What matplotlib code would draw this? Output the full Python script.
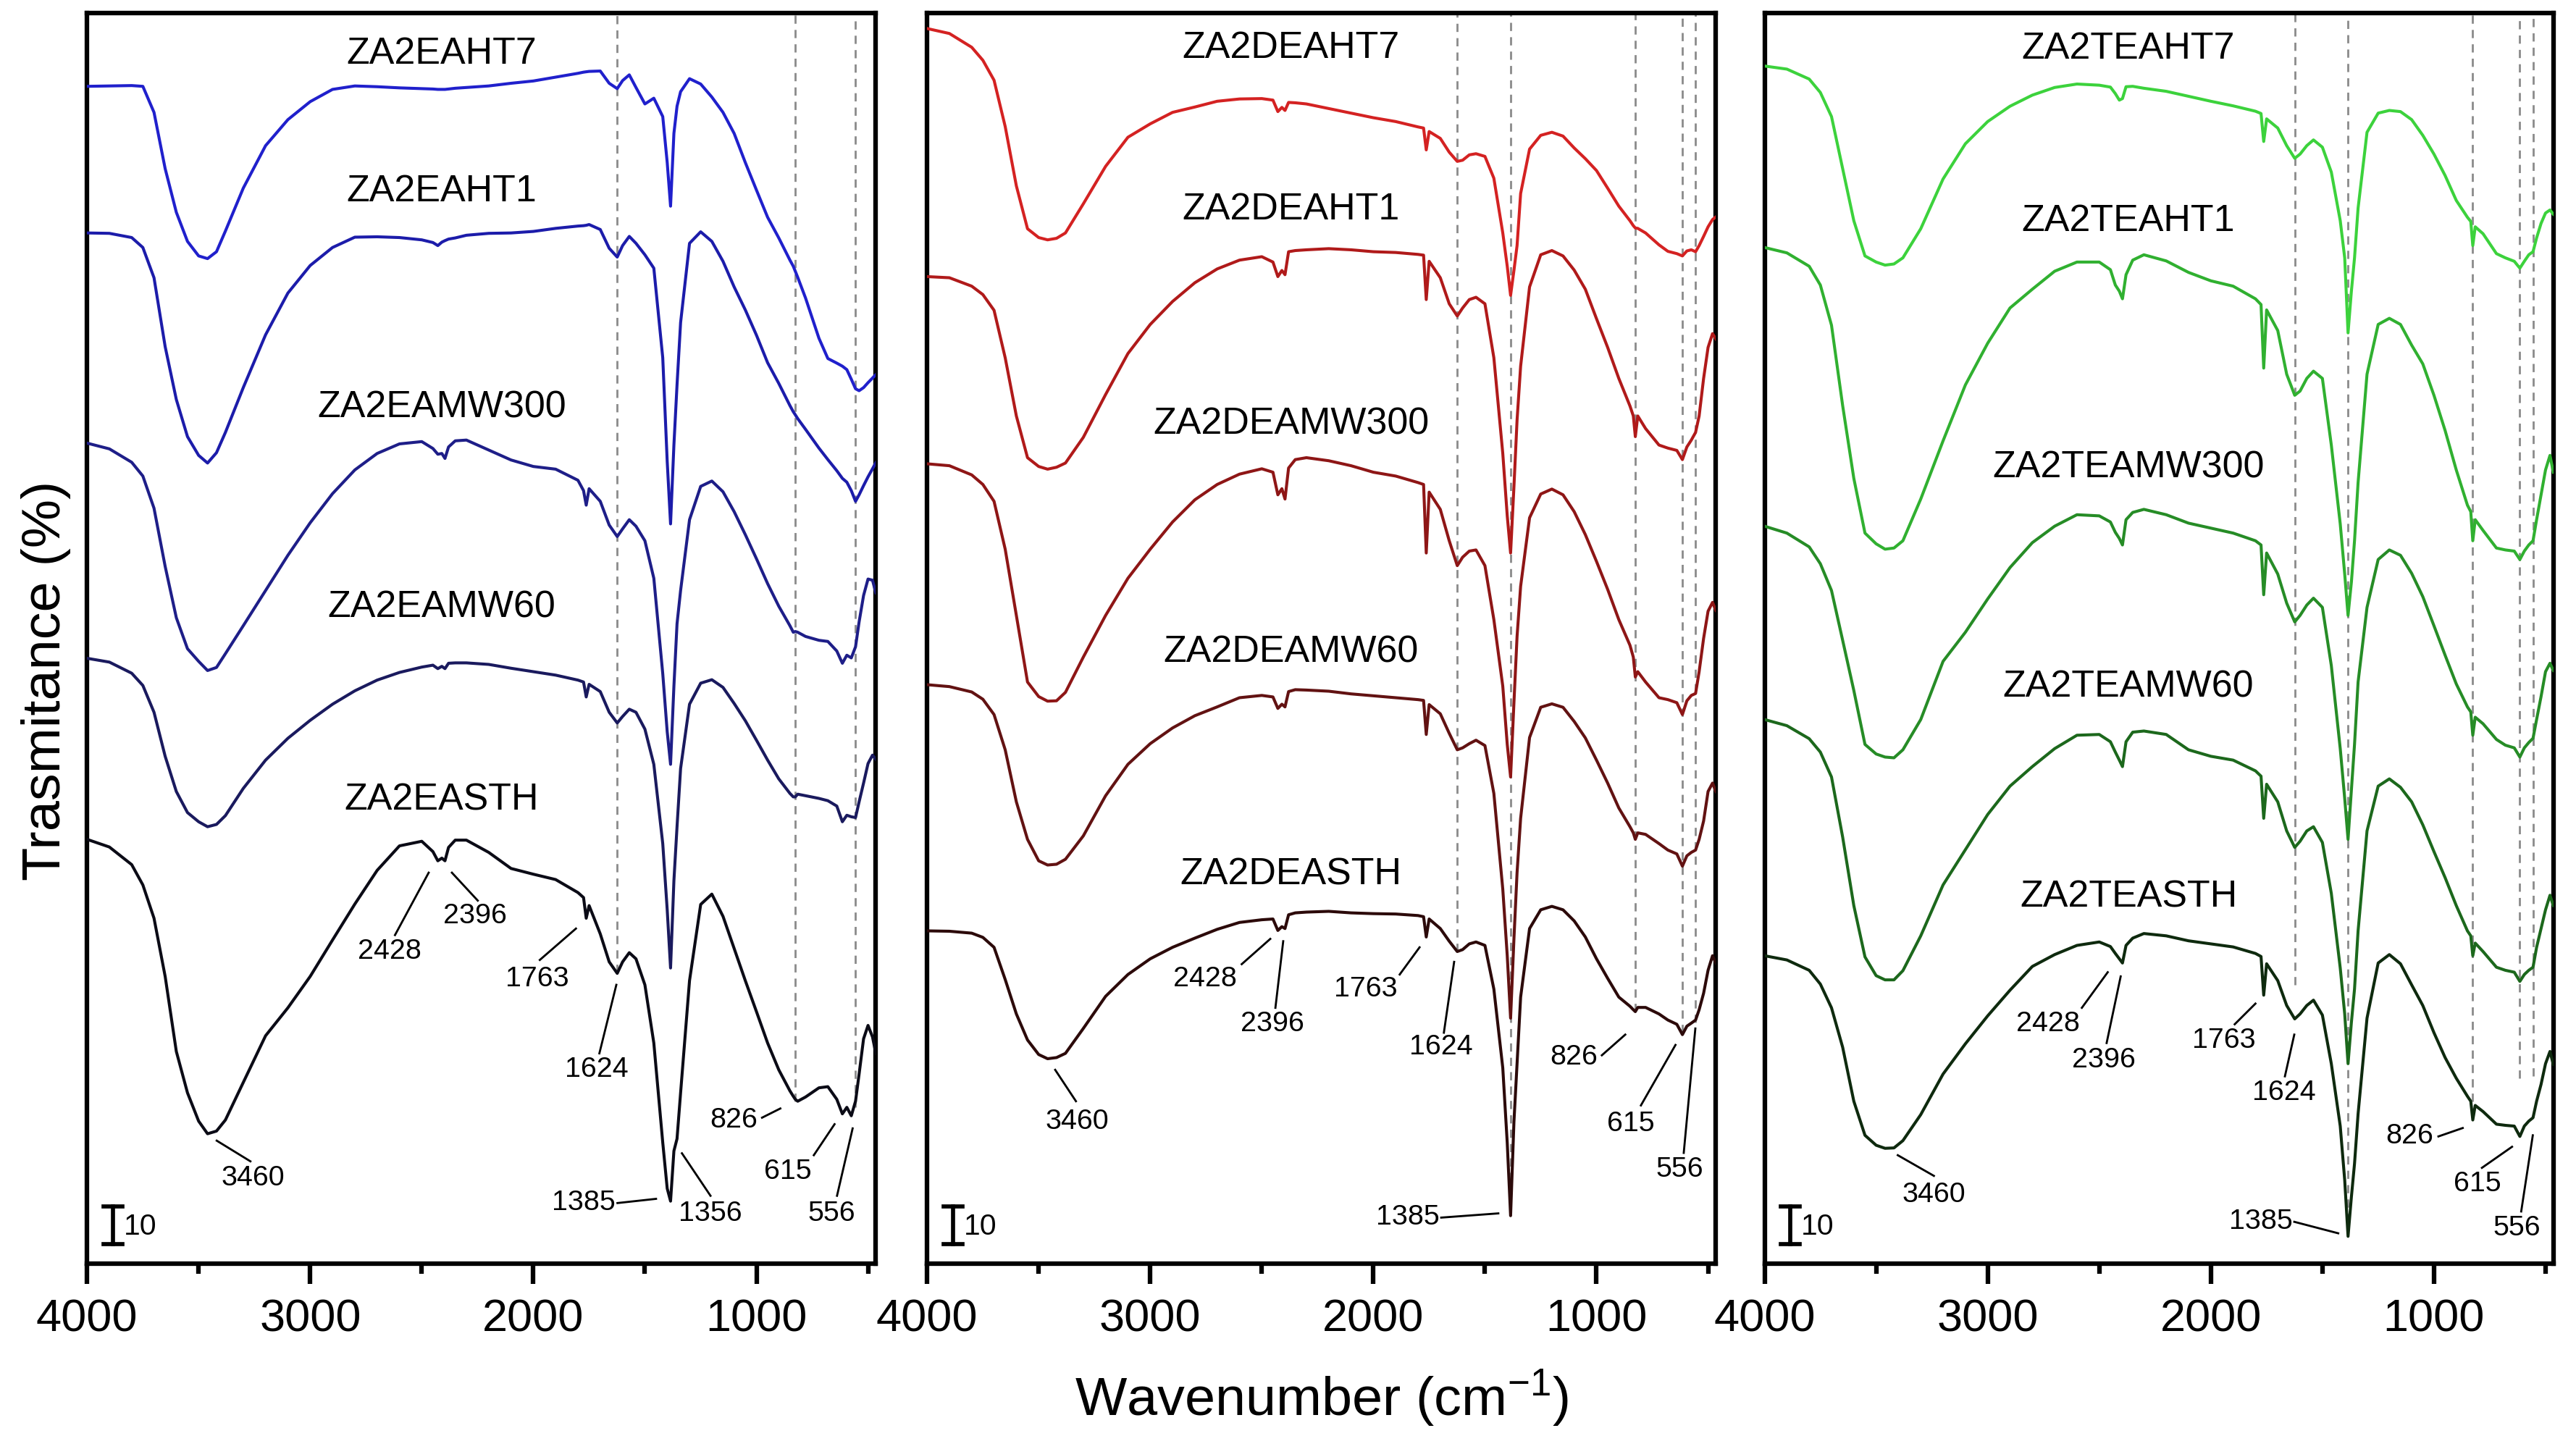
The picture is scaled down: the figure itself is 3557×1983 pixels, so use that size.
import matplotlib
matplotlib.use("Agg")
import matplotlib.pyplot as plt
from matplotlib.ticker import FixedLocator

plt.rcParams['font.family'] = ['Liberation Sans', 'DejaVu Sans']
plt.rcParams['mathtext.fontset'] = 'custom'
plt.rcParams['mathtext.rm'] = 'Liberation Sans'
plt.rcParams['mathtext.it'] = 'Liberation Sans:italic'
plt.rcParams['mathtext.bf'] = 'Liberation Sans:bold'
plt.rcParams['mathtext.default'] = 'regular'

# ---------------- data (wavenumber grid, cm-1) ----------------
WN = [4000, 3900, 3800, 3750, 3700, 3650, 3600, 3550, 3500, 3460,
      3420, 3380, 3300, 3200, 3100, 3000, 2900, 2800, 2700, 2600,
      2500, 2450, 2428, 2410, 2396, 2380, 2350, 2300, 2200, 2100,
      2000, 1900, 1800, 1775, 1763, 1750, 1700, 1660, 1624, 1600,
      1570, 1540, 1500, 1460, 1420, 1400, 1385, 1370, 1356, 1340,
      1300, 1250, 1200, 1150, 1100, 1050, 1000, 950, 900, 850,
      835, 826, 815, 780, 720, 680, 640, 615, 595, 575,
      556, 540, 520, 500, 480, 465]

# ---- panel 1 (ZA2EA...) transmittance with stacking offset (%) ----
EA_HT7 = [307.5, 307.6, 307.7, 307.5, 300.7, 286.0, 274.6, 267.0, 263.2, 262.5,
          264.3, 269.7, 280.9, 292.0, 298.8, 303.5, 306.7, 307.6, 307.4, 307.1,
          306.9, 306.8, 306.7, 306.7, 306.7, 306.8, 307.0, 307.2, 307.6, 308.3,
          308.9, 309.9, 310.9, 311.2, 311.3, 311.4, 311.5, 308.3, 306.9, 309.0,
          310.5, 307.2, 302.9, 304.4, 299.6, 287.6, 276.2, 295.2, 302.3, 306.1,
          309.5, 308.1, 304.7, 300.7, 295.2, 287.6, 280.4, 273.3, 267.9, 262.1,
          260.5, 259.2, 257.6, 252.2, 241.7, 236.4, 235.2, 234.4, 233.5, 231.0,
          228.5, 228.0, 228.8, 230.1, 231.3, 232.2]
EA_HT1 = [269.2, 269.1, 268.0, 265.4, 257.5, 239.5, 225.7, 216.0, 211.1, 209.1,
          211.8, 217.1, 228.8, 242.6, 253.5, 260.7, 265.4, 268.1, 268.2, 268.0,
          267.4, 266.7, 265.9, 266.8, 267.2, 267.6, 267.9, 268.6, 269.1, 269.2,
          269.6, 270.4, 271.0, 271.1, 271.2, 271.4, 270.1, 265.2, 262.9, 265.9,
          268.3, 266.5, 263.5, 260.0, 236.6, 209.5, 193.2, 213.8, 229.5, 245.8,
          266.5, 269.5, 267.0, 261.8, 255.1, 249.1, 242.5, 235.3, 229.9, 224.1,
          222.5, 221.7, 220.7, 217.9, 213.0, 210.0, 207.1, 205.1, 204.1, 201.9,
          199.1, 200.8, 203.2, 205.5, 207.6, 209.2]
EA_MW300 = [214.3, 212.8, 209.3, 205.7, 197.3, 182.1, 168.7, 160.6, 157.3, 154.9,
            155.7, 159.3, 166.6, 175.8, 185.0, 193.5, 201.1, 207.3, 211.6, 214.1,
            214.7, 212.9, 211.4, 211.6, 210.3, 213.3, 214.9, 215.1, 212.5, 209.9,
            208.2, 207.5, 204.6, 201.9, 198.1, 202.4, 199.1, 192.9, 189.9, 191.9,
            194.3, 192.6, 188.8, 179.0, 154.1, 138.9, 130.4, 150.8, 167.1, 175.8,
            194.3, 203.0, 204.4, 201.6, 196.4, 190.4, 184.1, 177.6, 171.7, 166.6,
            164.9, 165.1, 164.9, 163.8, 162.8, 162.5, 160.0, 156.8, 158.9, 158.2,
            161.1, 167.6, 174.5, 178.8, 178.5, 175.2]
EA_MW60 = [158.1, 157.1, 154.2, 151.0, 144.0, 132.5, 123.3, 117.8, 115.4, 114.1,
           114.7, 117.0, 124.1, 131.5, 137.2, 141.9, 146.1, 149.6, 152.4, 154.4,
           155.8, 156.3, 155.4, 156.0, 155.4, 156.8, 156.9, 156.9, 156.5, 155.5,
           154.6, 153.7, 152.4, 151.9, 148.0, 151.3, 149.4, 144.0, 141.2, 142.9,
           144.8, 144.0, 139.6, 130.4, 109.7, 92.4, 77.2, 100.0, 114.1, 129.3,
           146.1, 151.6, 152.5, 150.5, 146.3, 141.8, 136.7, 131.5, 126.6, 122.8,
           121.9, 121.9, 122.6, 122.2, 121.5, 120.9, 119.5, 115.4, 117.1, 116.7,
           116.5, 120.6, 125.5, 130.6, 132.8, 131.7]
EA_STH = [110.8, 108.8, 104.2, 98.9, 90.2, 75.0, 55.4, 44.6, 37.2, 33.9,
          34.6, 37.5, 47.3, 59.5, 66.8, 75.0, 84.5, 93.9, 102.7, 109.1,
          110.3, 107.6, 105.2, 105.9, 105.2, 108.7, 110.6, 110.6, 107.4, 103.2,
          101.7, 100.3, 96.9, 95.6, 90.2, 93.5, 86.1, 78.8, 75.8, 78.8,
          81.2, 79.6, 72.8, 57.6, 31.6, 19.6, 16.3, 29.4, 32.6, 44.6,
          73.9, 93.8, 96.5, 90.7, 82.3, 73.9, 65.8, 57.6, 50.6, 45.1,
          43.7, 42.9, 42.4, 43.5, 45.9, 46.2, 42.9, 39.1, 40.8, 38.6,
          42.4, 49.5, 58.7, 62.2, 59.2, 54.9]

# ---- panel 2 (ZA2DEA...) ----
DEA_HT7 = [322.6, 321.3, 317.7, 314.3, 309.1, 297.0, 281.5, 270.3, 268.0, 267.4,
           267.8, 269.2, 276.8, 286.6, 294.2, 297.7, 300.7, 302.1, 303.6, 304.2,
           304.3, 303.9, 300.9, 302.0, 301.2, 303.3, 303.2, 302.9, 301.7, 300.5,
           299.3, 298.3, 296.9, 296.6, 290.9, 295.7, 293.9, 290.3, 287.9, 288.2,
           289.6, 289.9, 289.2, 283.5, 269.2, 260.5, 252.9, 259.4, 265.9, 279.5,
           291.1, 294.7, 295.5, 294.5, 291.4, 288.6, 285.5, 280.9, 276.2, 272.4,
           271.1, 270.5, 270.4, 269.2, 266.1, 264.4, 263.8, 263.2, 264.5, 264.8,
           264.3, 265.9, 268.3, 270.8, 272.7, 273.4]
DEA_HT1 = [257.8, 257.5, 255.3, 253.1, 249.0, 236.6, 221.4, 210.5, 208.2, 207.5,
           208.0, 209.1, 215.8, 227.0, 237.7, 245.3, 251.3, 256.2, 259.8, 262.1,
           263.0, 261.6, 257.8, 259.4, 258.3, 264.3, 264.6, 264.8, 265.1, 264.8,
           264.3, 264.1, 263.6, 263.4, 251.8, 261.8, 257.5, 250.7, 247.5, 249.6,
           251.8, 252.4, 250.7, 236.6, 211.6, 195.3, 185.6, 202.9, 220.3, 234.4,
           255.1, 263.5, 264.6, 263.2, 259.5, 254.5, 246.8, 239.3, 231.2, 224.0,
           221.4, 216.0, 221.4, 218.1, 213.8, 213.0, 212.4, 210.0, 213.3, 215.1,
           217.1, 221.4, 231.2, 239.3, 242.9, 241.5]
DEA_MW300 = [208.9, 208.4, 206.0, 203.5, 199.1, 186.6, 169.3, 151.9, 148.1, 146.9,
             147.0, 149.2, 158.4, 169.3, 179.0, 186.6, 193.7, 199.5, 203.5, 206.2,
             207.6, 206.7, 200.8, 202.4, 199.7, 207.8, 210.0, 210.5, 209.7, 208.4,
             206.7, 205.7, 204.0, 203.5, 185.6, 201.5, 197.0, 188.8, 182.3, 184.5,
             186.1, 186.4, 182.3, 168.2, 150.8, 135.6, 127.1, 146.5, 163.8, 176.9,
             194.8, 201.0, 202.3, 200.8, 196.4, 190.4, 183.4, 176.1, 168.2, 161.5,
             158.4, 153.2, 154.6, 151.9, 147.8, 147.3, 146.5, 143.4, 147.0, 148.4,
             148.9, 154.6, 163.3, 170.4, 172.7, 170.6]
DEA_MW60 = [151.2, 150.7, 149.3, 147.4, 143.4, 134.2, 120.6, 110.8, 105.2, 104.1,
            104.3, 105.6, 111.7, 122.2, 130.4, 135.8, 139.9, 143.1, 145.4, 147.8,
            148.4, 148.0, 145.0, 146.1, 145.4, 149.4, 149.9, 149.8, 149.5, 148.8,
            148.3, 147.8, 147.3, 147.1, 138.2, 146.0, 143.6, 138.5, 134.2, 134.7,
            135.8, 136.7, 135.3, 122.8, 97.8, 80.4, 64.1, 84.8, 102.1, 116.3,
            137.4, 145.3, 146.2, 145.3, 141.6, 137.3, 131.5, 125.5, 119.0, 114.1,
            112.5, 110.8, 112.5, 112.1, 109.7, 108.0, 107.0, 103.8, 106.5, 107.4,
            108.0, 110.8, 115.6, 123.3, 125.5, 123.3]
DEA_STH = [86.9, 86.8, 86.3, 85.2, 82.6, 74.2, 65.2, 58.4, 54.6, 53.5,
           53.8, 54.9, 61.4, 69.8, 75.5, 79.6, 82.6, 85.0, 87.3, 89.1,
           89.8, 90.0, 87.0, 88.0, 87.5, 91.1, 91.6, 91.8, 92.0, 91.6,
           91.4, 91.3, 90.9, 90.6, 85.3, 90.0, 87.5, 84.2, 81.5, 82.0,
           83.5, 84.0, 83.1, 71.7, 51.1, 31.5, 12.5, 37.0, 52.2, 69.6,
           87.5, 92.4, 93.3, 92.4, 89.5, 85.3, 79.6, 74.5, 69.6, 67.2,
           66.3, 65.8, 66.9, 66.9, 65.2, 63.6, 62.5, 59.8, 62.0, 62.8,
           63.6, 66.3, 70.6, 76.6, 80.4, 78.5]

# ---- panel 3 (ZA2TEA...) ----
TEA_HT7 = [312.8, 312.0, 309.4, 305.9, 299.6, 286.0, 272.4, 263.2, 261.6, 260.8,
           261.1, 262.7, 270.3, 283.3, 292.5, 298.3, 302.3, 305.2, 307.2, 308.1,
           307.8, 307.3, 305.6, 303.9, 304.3, 307.4, 307.5, 307.0, 306.2, 304.9,
           303.6, 302.4, 301.0, 300.4, 293.1, 299.0, 296.6, 292.0, 288.7, 289.8,
           292.0, 293.5, 291.6, 285.1, 272.4, 262.7, 243.1, 254.0, 262.7, 275.7,
           295.5, 300.5, 301.2, 300.9, 298.8, 294.7, 289.8, 284.2, 277.7, 273.3,
           272.2, 265.9, 270.8, 269.0, 263.8, 262.7, 261.8, 260.0, 261.8, 263.5,
           264.3, 267.9, 271.7, 274.4, 275.2, 274.1]
TEA_HT1 = [265.4, 264.0, 260.5, 255.6, 245.1, 224.1, 205.1, 190.8, 188.0, 186.6,
           186.9, 188.8, 199.7, 214.9, 229.5, 240.4, 249.6, 254.5, 259.2, 261.6,
           261.6, 259.6, 255.6, 254.0, 252.0, 258.3, 262.1, 263.5, 261.9, 258.9,
           256.7, 255.3, 252.0, 250.5, 233.9, 249.1, 243.7, 232.3, 226.8, 227.9,
           231.2, 233.1, 231.2, 213.8, 193.2, 180.1, 169.3, 178.0, 188.8, 204.0,
           232.3, 245.3, 246.9, 245.3, 239.9, 235.0, 226.8, 217.6, 207.3, 198.1,
           196.4, 188.8, 194.3, 191.5, 186.9, 186.4, 186.1, 183.9, 186.1, 187.7,
           188.8, 194.3, 200.8, 207.3, 211.1, 206.7]
TEA_MW300 = [192.6, 190.8, 187.2, 182.8, 175.8, 162.8, 149.7, 135.6, 133.1, 132.3,
             132.1, 134.2, 142.1, 157.3, 164.9, 173.6, 181.8, 188.3, 192.6, 195.6,
             195.3, 193.7, 191.0, 189.4, 187.7, 194.3, 196.2, 197.0, 195.6, 193.4,
             192.1, 190.8, 188.8, 187.7, 174.7, 185.6, 180.1, 172.5, 167.6, 169.3,
             172.0, 173.8, 171.4, 156.2, 134.5, 121.5, 110.8, 123.7, 135.6, 151.9,
             171.4, 183.9, 186.4, 185.0, 180.3, 174.2, 166.6, 158.9, 151.4, 145.4,
             144.1, 138.0, 142.7, 141.0, 136.9, 135.4, 134.7, 132.3, 134.7, 136.1,
             137.2, 142.1, 148.1, 154.6, 156.8, 154.9]
TEA_MW60 = [142.1, 140.5, 137.1, 133.6, 127.1, 111.4, 93.5, 80.1, 75.2, 74.1,
            74.1, 76.5, 85.6, 98.9, 108.1, 117.3, 124.7, 129.8, 134.5, 138.0,
            138.2, 136.3, 133.6, 131.5, 129.8, 136.3, 138.8, 139.1, 138.2, 134.2,
            132.5, 131.5, 128.7, 127.3, 116.3, 125.2, 120.6, 113.0, 108.7, 110.3,
            113.0, 114.1, 110.0, 96.7, 77.2, 65.2, 52.2, 63.0, 71.7, 86.9,
            113.0, 124.7, 126.6, 124.4, 120.6, 114.6, 107.6, 100.8, 93.5, 86.9,
            85.6, 80.4, 83.7, 81.5, 77.4, 76.6, 76.1, 73.7, 75.5, 76.6,
            77.4, 82.6, 87.5, 92.4, 96.2, 93.5]
TEA_STH = [80.4, 79.3, 76.6, 73.0, 66.8, 56.5, 42.4, 33.5, 30.9, 30.1,
           30.2, 32.1, 38.9, 49.5, 57.4, 64.7, 71.4, 77.6, 80.7, 83.1,
           84.0, 82.8, 81.0, 79.6, 78.5, 83.1, 85.0, 86.2, 85.6, 84.3,
           83.5, 82.7, 81.0, 80.2, 70.1, 78.3, 73.9, 67.4, 63.9, 65.2,
           67.4, 68.8, 64.9, 52.2, 35.9, 21.8, 7.1, 17.4, 26.1, 39.1,
           64.1, 78.5, 80.7, 78.3, 72.8, 67.4, 60.3, 53.8, 48.4, 43.7,
           42.4, 37.5, 41.3, 39.7, 36.4, 36.1, 35.9, 33.2, 35.9, 37.2,
           38.1, 42.4, 46.8, 52.2, 55.4, 52.0]

NAMES_1 = ["ZA2EAHT7", "ZA2EAHT1", "ZA2EAMW300", "ZA2EAMW60", "ZA2EASTH"]
NAMES_2 = ["ZA2DEAHT7", "ZA2DEAHT1", "ZA2DEAMW300", "ZA2DEAMW60", "ZA2DEASTH"]
NAMES_3 = ["ZA2TEAHT7", "ZA2TEAHT1", "ZA2TEAMW300", "ZA2TEAMW60", "ZA2TEASTH"]

# marked bands (cm-1)
DASH_1 = [1624, 826, 556]
DASH_23 = [1624, 1385, 826, 615, 556]

# ---------------- styling / layout ----------------
COLORS_1 = ["#2020cc", "#1c1caa", "#1e1e88", "#1a1a5e", "#0b0b16"]
COLORS_2 = ["#d42222", "#b01a1a", "#8e1616", "#621212", "#2c0a0a"]
COLORS_3 = ["#3cd23c", "#30b030", "#268c26", "#1c681c", "#0e2a0e"]

PANELS = [
    dict(series=[EA_HT7, EA_HT1, EA_MW300, EA_MW60, EA_STH], names=NAMES_1,
         colors=COLORS_1, dash=DASH_1, dash_end=[76.1, 42.4, 40.8],
         label_pos=[(2411, 315.9), (2411, 280.0), (2411, 223.6), (2411, 171.4), (2411, 121.1)],
         ann=[("3460", 3257, 22.3, 3419, 32.1, 3268, 26.7),
              ("2428", 2643, 81.5, 2469, 102.1, 2620, 85.8),
              ("2396", 2261, 90.7, 2365, 102.1, 2249, 94.8),
              ("1763", 1982, 74.4, 1809, 87.5, 1971, 79.3),
              ("1624", 1716, 50.6, 1628, 72.8, 1704, 54.9),
              ("1385", 1774, 15.8, 1450, 16.9, 1623, 15.8),
              ("1356", 1206, 13.1, 1334, 28.8, 1206, 17.7),
              ("826", 1102, 37.5, 893, 40.5, 975, 38.1),
              ("615", 859, 24.0, 650, 36.4, 743, 28.3),
              ("556", 662, 13.1, 569, 35.3, 639, 17.7)]),
    dict(series=[DEA_HT7, DEA_HT1, DEA_MW300, DEA_MW60, DEA_STH], names=NAMES_2,
         colors=COLORS_2, dash=DASH_23, dash_end=[81.5, 14.2, 65.8, 60.3, 63.0],
         label_pos=[(2369, 317.5), (2369, 275.2), (2369, 219.2), (2369, 159.7), (2369, 101.6)],
         ann=[("3460", 3327, 37.0, 3426, 50.6, 3333, 42.4),
              ("2428", 2753, 74.4, 2462, 84.8, 2590, 78.2),
              ("2396", 2451, 62.5, 2404, 84.2, 2439, 66.8),
              ("1763", 2033, 71.7, 1793, 82.6, 1882, 75.5),
              ("1624", 1696, 56.5, 1638, 78.8, 1684, 60.3),
              ("1385", 1847, 12.0, 1440, 13.1, 1696, 12.0),
              ("826", 1103, 53.8, 871, 59.8, 976, 54.4),
              ("615", 848, 36.4, 646, 57.1, 801, 41.3),
              ("556", 627, 24.5, 557, 61.4, 609, 28.9)]),
    dict(series=[TEA_HT7, TEA_HT1, TEA_MW300, TEA_MW60, TEA_STH], names=NAMES_3,
         colors=COLORS_3, dash=DASH_23, dash_end=[72.8, 10.9, 42.4, 48.4, 48.9],
         label_pos=[(2369, 317.2), (2369, 272.2), (2369, 207.8), (2369, 150.5), (2369, 95.6)],
         ann=[("3460", 3241, 18.0, 3403, 28.3, 3241, 22.9),
              ("2428", 2729, 62.5, 2462, 76.1, 2578, 66.8),
              ("2396", 2481, 53.1, 2404, 75.0, 2467, 57.6),
              ("1763", 1940, 58.2, 1800, 67.9, 1893, 62.5),
              ("1624", 1673, 44.6, 1626, 59.8, 1668, 48.9),
              ("1385", 1777, 10.9, 1429, 7.9, 1626, 10.9),
              ("826", 1110, 33.2, 871, 35.4, 980, 33.2),
              ("615", 806, 20.7, 650, 30.5, 785, 25.0),
              ("556", 627, 9.3, 557, 33.5, 609, 13.6)]),
]

AX_LEFTS = [0.0338, 0.3599, 0.6850]
AX_W, AX_B, AX_H = 0.3062, 0.1201, 0.8707
XMAX, XMIN = 4000, 465
YTOP = 326.6

DPI = 226.85
fig = plt.figure(figsize=(3557 / DPI, 1983 / DPI), dpi=DPI)
fig.patch.set_facecolor("white")

for left, p in zip(AX_LEFTS, PANELS):
    ax = fig.add_axes([left, AX_B, AX_W, AX_H])
    # dashed guide lines
    for xw, ye in zip(p["dash"], p["dash_end"]):
        ax.plot([xw, xw], [ye, YTOP], color="#8c8c8c", lw=0.9,
                ls=(0, (4, 3)), zorder=1)
    # spectra
    for ys, c in zip(p["series"], p["colors"]):
        ax.plot(WN, ys, color=c, lw=1.3, zorder=3, solid_joinstyle="round")
    # sample names
    for name, (xw, yt) in zip(p["names"], p["label_pos"]):
        ax.text(xw, yt, name, ha="center", va="center", fontsize=16.5, zorder=4)
    # band annotations
    for txt, tx, ty, x1, y1, x2, y2 in p["ann"]:
        ax.plot([x1, x2], [y1, y2], color="black", lw=0.9, zorder=4)
        ax.text(tx, ty, txt, ha="center", va="center", fontsize=12.5, zorder=4)
    # 10 % scale bar
    ax.plot([3885, 3885], [5, 15], color="black", lw=1.8, zorder=4)
    ax.plot([3927, 3843], [5, 5], color="black", lw=1.8, zorder=4)
    ax.plot([3927, 3843], [15, 15], color="black", lw=1.8, zorder=4)
    ax.text(3836, 9.6, "10", ha="left", va="center", fontsize=13, zorder=4)

    ax.set_xlim(XMAX, XMIN)
    ax.set_ylim(0, YTOP)
    ax.xaxis.set_major_locator(FixedLocator([4000, 3000, 2000, 1000]))
    ax.xaxis.set_minor_locator(FixedLocator([3500, 2500, 1500, 500]))
    ax.tick_params(axis="x", which="major", direction="out", length=9, width=2,
                   labelsize=20, pad=6)
    ax.tick_params(axis="x", which="minor", direction="out", length=4.6, width=2)
    ax.set_yticks([])
    for sp in ax.spines.values():
        sp.set_linewidth(2)

fig.text(0.0179, 0.526, "Trasmitance (%)", rotation=90, ha="center", va="center",
         fontsize=24)
fig.text(0.513, 0.0263, "Wavenumber (cm$^{-1}$)", ha="center", va="center",
         fontsize=24)

fig.savefig("out.png", dpi=DPI, facecolor="white")
